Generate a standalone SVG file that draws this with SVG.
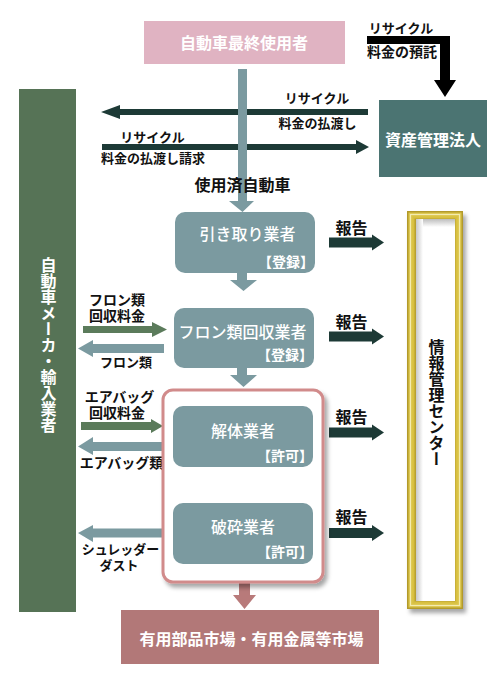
<svg xmlns="http://www.w3.org/2000/svg" width="500" height="700" viewBox="0 0 500 700">
<style>
text{font-family:"Liberation Sans","Noto Sans CJK JP",sans-serif;font-weight:bold}
.w{fill:#ffffff}
.k{fill:#111111}
.c{text-anchor:middle}
.e{text-anchor:end}
.f16{font-size:16px}
.f15{font-size:15px}
.f14{font-size:14px}
.f13{font-size:13px}
.m{font-weight:500}
.box{fill:#7b9aa0}
.gray{fill:#7b9aa0}
.dark{fill:#1d3a36}
.green{fill:#5b7b5b}
.vt{writing-mode:vertical-rl;font-size:16px}
</style>
<defs>
<filter id="sh" x="-20%" y="-20%" width="140%" height="140%">
<feDropShadow dx="3" dy="4" stdDeviation="2" flood-color="#000" flood-opacity="0.35"/>
</filter>
<linearGradient id="inTop" x1="0" y1="0" x2="0" y2="1">
<stop offset="0" stop-color="#bdbdbd"/>
<stop offset="1" stop-color="#ffffff"/>
</linearGradient>
<linearGradient id="inLeft" x1="0" y1="0" x2="1" y2="0">
<stop offset="0" stop-color="#c8c8c8"/>
<stop offset="1" stop-color="#ffffff"/>
</linearGradient>
</defs>
<rect width="500" height="700" fill="#ffffff"/>

<g id="connectors">
<path d="M367,36 H450 V80 H456 L445,97 L434,80 H440 V44 H367 Z" fill="#000"/>
<path class="dark" d="M368,109 H120 V105 L101,112 L120,119 V115 H368 Z"/>
<path class="dark" d="M102,144 H356 V140 L369,147 L356,154 V150 H102 Z"/>
<path class="gray" d="M238,69 H247 V201 H254 L242.5,212 L229,201 H238 Z"/>
<path class="gray" d="M237,273 H247 V280 H257 L243.5,291 L230,280 H237 Z"/>
<path class="gray" d="M237,368 H247 V375 H257 L243.5,387 L230,375 H237 Z"/>
<path class="gray" d="M236,467 H246 V473 H255 L241.5,485 L228,473 H236 Z"/>
<path fill="#b87a7a" d="M239,583 H250 V595 H256 L244.5,609 L233,595 H239 Z"/>
<path class="dark" d="M329,237.5 H372 V234.5 L384,242.5 L372,250.5 V247.5 H329 Z"/>
<path class="dark" d="M329,331.5 H372 V328.5 L384,336.5 L372,344.5 V341.5 H329 Z"/>
<path class="dark" d="M329,427.5 H372 V424.5 L384,432.5 L372,440.5 V437.5 H329 Z"/>
<path class="dark" d="M329,528 H372 V525 L384,533 L372,541 V538 H329 Z"/>
<path class="green" d="M83,326 H152 V322 L167,329.5 L152,337 V333 H83 Z"/>
<path class="green" d="M81,422 H151 V419 L163,426 L151,433 V430 H81 Z"/>
<path class="gray" d="M164,344 H93 V340 L78,348.5 L93,357 V353 H164 Z"/>
<path class="gray" d="M164,442 H93 V437 L78,446.5 L93,455 V451 H164 Z"/>
<path class="gray" d="M164,528.5 H93 V525 L78,533 L93,542 V537.5 H164 Z"/>
</g>

<g id="end-user">
<rect x="144" y="21" width="201" height="43" fill="#e0b3c2"/>
<text class="w c f16" x="244" y="49">自動車最終使用者</text>
</g>

<g id="maker">
<rect x="19" y="89" width="57" height="523" fill="#567356"/>
<text class="w vt" x="47" y="257">自動車メーカ・輸入業者</text>
</g>

<g id="fund">
<rect x="379" y="100" width="108" height="77" fill="#4b7472"/>
<text class="w c f16" x="433" y="146">資産管理法人</text>
</g>

<g id="labels">
<text class="k c f13" x="401" y="33">リサイクル</text>
<text class="k c f14" x="402" y="57">料金の預託</text>
<text class="k c f13" x="317" y="103">リサイクル</text>
<text class="k c f13" x="317.5" y="128">料金の払渡し</text>
<text class="k c f13" x="152.5" y="142">リサイクル</text>
<text class="k c f13" x="153" y="163">料金の払渡し請求</text>
<text class="k c f16" x="242.5" y="190.5">使用済自動車</text>
<text class="k c f14"><tspan x="117" y="304.5">フロン類</tspan><tspan x="117" y="321">回収料金</tspan></text>
<text class="k c f13" x="126" y="367">フロン類</text>
<text class="k c f14"><tspan x="119.5" y="401.5">エアバッグ</tspan><tspan x="117" y="418">回収料金</tspan></text>
<text class="k c f14" x="121.5" y="468">エアバッグ類</text>
<text class="k c f13"><tspan x="120.5" y="554">シュレッダー</tspan><tspan x="119" y="569.5">ダスト</tspan></text>
<text class="k c f16" x="351.5" y="233.5">報告</text>
<text class="k c f16" x="351.5" y="327.5">報告</text>
<text class="k c f16" x="351.5" y="422.5">報告</text>
<text class="k c f16" x="351.5" y="522.5">報告</text>
</g>

<g id="collector">
<rect class="box" x="175" y="212" width="140" height="61" rx="10"/>
<text class="w c f16 m" x="247.5" y="240">引き取り業者</text>
<text class="w e f14" x="314" y="267">【登録】</text>
</g>

<g id="freon">
<rect class="box" x="174" y="308" width="140" height="60" rx="10"/>
<text class="w c f16 m" x="242.5" y="338">フロン類回収業者</text>
<text class="w e f14" x="313" y="360">【登録】</text>
</g>

<g id="licensed">
<rect x="163" y="390" width="160" height="192" rx="10" fill="#ffffff" stroke="#d18b8b" stroke-width="3" filter="url(#sh)"/>
</g>

<g id="dismantler">
<rect class="box" x="173" y="406" width="140" height="61" rx="10"/>
<text class="w c f16 m" x="243" y="437">解体業者</text>
<text class="w e f14" x="313" y="461">【許可】</text>
</g>

<g id="shredder">
<rect class="box" x="173" y="503" width="140" height="61" rx="10"/>
<text class="w c f16 m" x="243" y="533">破砕業者</text>
<text class="w e f14" x="313" y="557">【許可】</text>
</g>

<g id="market">
<rect x="121" y="610" width="258" height="54" fill="#b27878"/>
<text class="w c f16" x="251.5" y="645">有用部品市場・有用金属等市場</text>
</g>

<g id="info-center">
<rect x="407" y="211" width="56" height="398" fill="#b39a2a" filter="url(#sh)"/>
<rect x="408.5" y="212.5" width="53" height="395" fill="#dcc64c"/>
<rect x="410.5" y="214.5" width="49" height="391" fill="none" stroke="#f4ecb0" stroke-width="1.2"/>
<rect x="412.5" y="216.5" width="45" height="387" fill="#d8c040"/>
<rect x="414.5" y="218.5" width="41" height="383" fill="#b8a030"/>
<rect x="416" y="219" width="39" height="382" fill="#ffffff"/>
<rect x="416" y="219" width="39" height="8" fill="url(#inTop)"/>
<rect x="416" y="219" width="7" height="382" fill="url(#inLeft)"/>
<text class="k vt" x="435" y="339">情報管理センター</text>
</g>
</svg>
